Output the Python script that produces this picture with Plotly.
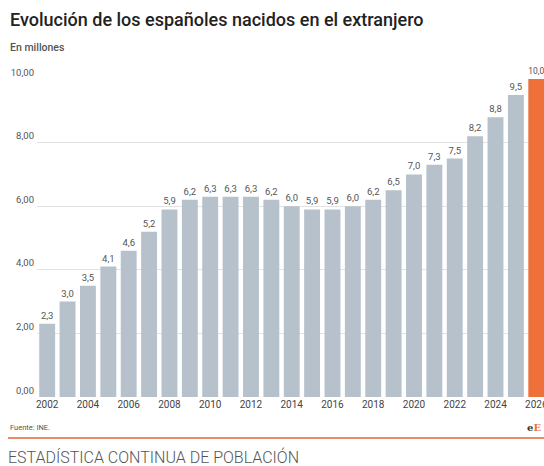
import plotly.graph_objects as go

years = list(range(2002, 2027))
values = [2.3, 3.0, 3.5, 4.1, 4.6, 5.2, 5.9, 6.2, 6.3, 6.3, 6.3, 6.2, 6.0, 5.9, 5.9,
          6.0, 6.2, 6.5, 7.0, 7.3, 7.5, 8.2, 8.8, 9.5, 10.0]
highlight_year = 2026
y_ticks = [0, 2, 4, 6, 8, 10]
x_ticks = list(range(2002, 2027, 2))

colors = ["#f0703a" if y == highlight_year else "#b6c1cb" for y in years]

W = 507.0  # plot width in px
H = 318.0  # plot height in px
L = 37.0
T = 79.0
BOT = T + H


def px_x(x):
    return (x - L) / W


def px_y(y):
    return (BOT - y) / H


fig = go.Figure()
fig.add_trace(go.Bar(
    x=years, y=values,
    marker=dict(color=colors, line=dict(width=0)),
    width=0.78,
    texttemplate="%{y:.1f}",
    textposition="outside",
    textfont=dict(family="Roboto", size=9.5, color="#555555"),
    cliponaxis=False,
    hoverinfo="skip",
))

fig.update_layout(
    width=544, height=466,
    margin=dict(l=37, r=0, t=79, b=69, autoexpand=False),
    paper_bgcolor="white", plot_bgcolor="white",
    separators=",.",
    showlegend=False,
    font=dict(family="Roboto", color="#444444"),
    bargap=0.22,
    xaxis=dict(
        range=[2001.5, 2026.38],
        tickvals=x_ticks,
        tickfont=dict(family="Roboto", size=10, color="#444444"),
        ticklabeloverflow="allow",
        automargin=False,
        showgrid=False, zeroline=False, showline=False, ticks="",
        fixedrange=True,
    ),
    yaxis=dict(
        range=[0, 10],
        tickvals=y_ticks,
        tickformat=".2f",
        ticklabelposition="outside top",
        tickfont=dict(family="Roboto", size=9.5, color="#555555"),
        ticklabelstandoff=2,
        automargin=False,
        showgrid=True, gridcolor="#e3e3e3", gridwidth=1,
        zeroline=False, showline=False, ticks="",
        fixedrange=True,
    ),
)

fig.add_annotation(text="Evolución de los españoles nacidos en el extranjero",
                   xref="paper", yref="paper", x=px_x(8), y=px_y(19),
                   xanchor="left", yanchor="middle", showarrow=False,
                   font=dict(family="Roboto", size=18, color="#222222", weight=500))
fig.add_annotation(text="En millones",
                   xref="paper", yref="paper", x=px_x(8), y=px_y(47),
                   xanchor="left", yanchor="middle", showarrow=False,
                   font=dict(family="Roboto", size=10.5, color="#555555", weight=500))
fig.add_annotation(text="Fuente: INE.",
                   xref="paper", yref="paper", x=px_x(8), y=px_y(427),
                   xanchor="left", yanchor="middle", showarrow=False,
                   font=dict(family="Roboto", size=7.5, color="#555555"))
fig.add_annotation(text="<b>e</b><span style='color:#f0703a'><b>E</b></span>",
                   xref="paper", yref="paper", x=px_x(543), y=px_y(427),
                   xanchor="right", yanchor="middle", showarrow=False,
                   font=dict(family="DejaVu Serif", size=10, color="#333333"))
fig.add_annotation(text="ESTADÍSTICA CONTINUA DE POBLACIÓN",
                   xref="paper", yref="paper", x=px_x(6), y=px_y(457),
                   xanchor="left", yanchor="middle", showarrow=False,
                   font=dict(family="Roboto", size=16, color="#555555", weight=300))
fig.add_shape(type="line", xref="paper", yref="paper",
              x0=px_x(8), x1=1.0, y0=px_y(438), y1=px_y(438),
              line=dict(color="#e98a6a", width=2))

fig.write_html("out.html")
